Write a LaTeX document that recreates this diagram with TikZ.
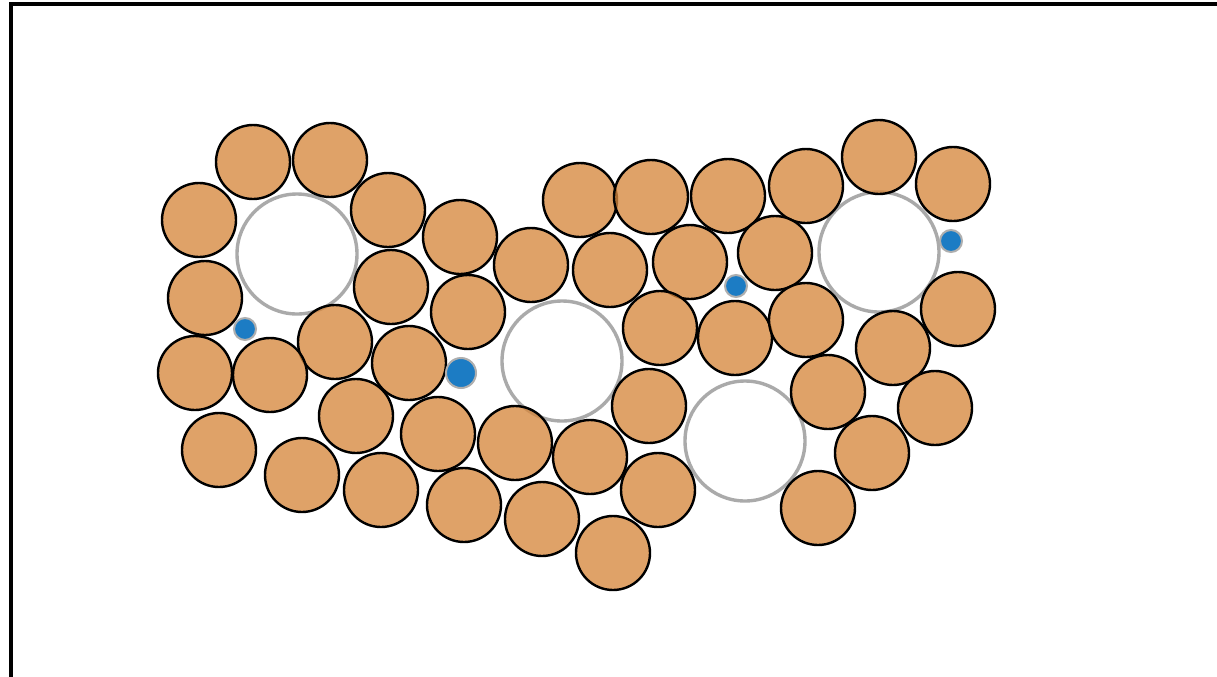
\documentclass[tikz,border=0pt]{standalone}
\definecolor{ballfill}{RGB}{214,136,62}
\definecolor{holegray}{RGB}{170,170,170}
\definecolor{dotblue}{RGB}{28,124,196}
\definecolor{dotrim}{RGB}{175,175,175}
\tikzset{
  ball/.style={circle,draw=black,line width=1.2pt,fill=ballfill,fill opacity=0.78,draw opacity=1,minimum size=37pt,inner sep=0pt},
  hole/.style={circle,draw=holegray,line width=1.7pt,fill=white,minimum size=60pt,inner sep=0pt},
  dot/.style={circle,draw=dotrim,line width=1pt,fill=dotblue,minimum size=11pt,inner sep=0pt},
  bigdot/.style={dot,minimum size=15pt},
  frameline/.style={line width=2pt,black}
}
\begin{document}
\begin{tikzpicture}[x=0.5pt,y=-0.5pt]
\useasboundingbox (0,0) rectangle (1217,676);
\fill[white] (0,0) rectangle (1217,676);
\coordinate (fb) at (11,690);
\coordinate (fc) at (11,4);
\coordinate (fr) at (1230,4);
\draw[frameline] (fb) -- (fc) -- (fr);
% holes
\node[hole] (h1) at (297,254) {};
\node[hole] (h2) at (562,361) {};
\node[hole] (h3) at (745,441) {};
\node[hole] (h4) at (879,252) {};
% balls
\node[ball] (b1) at (253,162) {};
\node[ball] (b2) at (330,160) {};
\node[ball] (b3) at (199,220) {};
\node[ball] (b4) at (388,210) {};
\node[ball] (b5) at (460,237) {};
\node[ball] (b6) at (205,298) {};
\node[ball] (b7) at (391,287) {};
\node[ball] (b8) at (531,265) {};
\node[ball] (b9) at (580,200) {};
\node[ball] (b10) at (651,197) {};
\node[ball] (b11) at (728,196) {};
\node[ball] (b12) at (806,186) {};
\node[ball] (b13) at (879,157) {};
\node[ball] (b14) at (953,184) {};
\node[ball] (b15) at (610,270) {};
\node[ball] (b16) at (690,262) {};
\node[ball] (b17) at (775,253) {};
\node[ball] (b18) at (468,312) {};
\node[ball] (b19) at (335,342) {};
\node[ball] (b20) at (195,373) {};
\node[ball] (b21) at (270,375) {};
\node[ball] (b22) at (409,363) {};
\node[ball] (b23) at (660,328) {};
\node[ball] (b24) at (735,338) {};
\node[ball] (b25) at (806,320) {};
\node[ball] (b26) at (958,309) {};
\node[ball] (b27) at (893,348) {};
\node[ball] (b28) at (356,416) {};
\node[ball] (b29) at (438,434) {};
\node[ball] (b30) at (515,443) {};
\node[ball] (b31) at (649,406) {};
\node[ball] (b32) at (828,392) {};
\node[ball] (b33) at (935,408) {};
\node[ball] (b34) at (219,450) {};
\node[ball] (b35) at (302,475) {};
\node[ball] (b36) at (381,490) {};
\node[ball] (b37) at (464,505) {};
\node[ball] (b38) at (542,519) {};
\node[ball] (b39) at (590,457) {};
\node[ball] (b40) at (658,490) {};
\node[ball] (b41) at (872,453) {};
\node[ball] (b42) at (818,508) {};
\node[ball] (b43) at (613,553) {};
% dots
\node[dot] (d1) at (245,329) {};
\node[bigdot] (d2) at (461,373) {};
\node[dot] (d3) at (736,286) {};
\node[dot] (d4) at (951,241) {};
\end{tikzpicture}
\end{document}
